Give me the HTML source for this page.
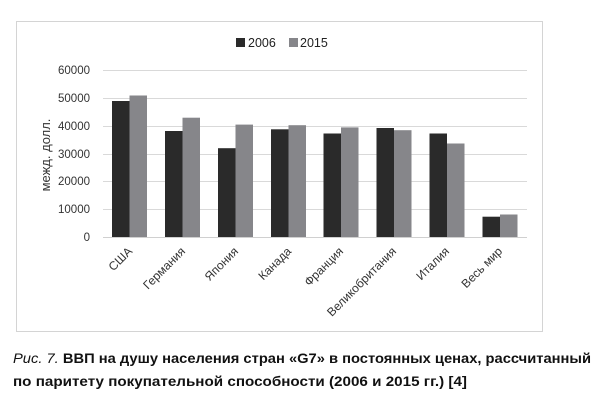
<!DOCTYPE html>
<html><head><meta charset="utf-8"><style>
html,body{margin:0;padding:0;background:#fff;}
svg{display:block;font-family:"Liberation Sans",sans-serif;}
</style></head><body>
<svg width="605" height="400" viewBox="0 0 605 400" xmlns="http://www.w3.org/2000/svg">
<rect x="16.5" y="21.5" width="526" height="310" fill="#fff" stroke="#d4d4d4" stroke-width="1"/>
<rect x="236" y="38" width="9" height="9" fill="#2a2a2a"/>
<text x="248" y="47" font-size="12.5" fill="#222">2006</text>
<rect x="289" y="38" width="9" height="9" fill="#86868a"/>
<text x="300" y="47" font-size="12.5" fill="#222">2015</text>
<g stroke="#d9d9d9" stroke-width="1">
<line x1="103" x2="527" y1="70.5" y2="70.5"/>
<line x1="103" x2="527" y1="98.5" y2="98.5"/>
<line x1="103" x2="527" y1="126.5" y2="126.5"/>
<line x1="103" x2="527" y1="154.5" y2="154.5"/>
<line x1="103" x2="527" y1="181.5" y2="181.5"/>
<line x1="103" x2="527" y1="209.5" y2="209.5"/>
</g>
<g font-size="11.5" fill="#333" text-anchor="end">
<text x="90" y="74">60000</text>
<text x="90" y="102">50000</text>
<text x="90" y="130">40000</text>
<text x="90" y="158">30000</text>
<text x="90" y="185">20000</text>
<text x="90" y="213">10000</text>
<text x="90" y="241">0</text>
</g>
<text transform="translate(50,155) rotate(-90)" font-size="13" fill="#333" text-anchor="middle">межд. долл.</text>
<g fill="#2a2a2a">
<rect x="112" y="101" width="17.5" height="136"/>
<rect x="165" y="131" width="17.5" height="106"/>
<rect x="218" y="148.2" width="17.5" height="88.8"/>
<rect x="271" y="129.3" width="17.5" height="107.7"/>
<rect x="323.5" y="133.5" width="17.5" height="103.5"/>
<rect x="376.5" y="128" width="17.5" height="109"/>
<rect x="429.5" y="133.5" width="17.5" height="103.5"/>
<rect x="482.5" y="216.7" width="17.5" height="20.3"/>
</g>
<g fill="#86868a">
<rect x="129.5" y="95.5" width="17.5" height="141.5"/>
<rect x="182.5" y="117.7" width="17.5" height="119.3"/>
<rect x="235.5" y="124.6" width="17.5" height="112.4"/>
<rect x="288.5" y="125.2" width="17.5" height="111.8"/>
<rect x="341" y="127.4" width="17.5" height="109.6"/>
<rect x="394" y="130.2" width="17.5" height="106.8"/>
<rect x="447" y="143.5" width="17.5" height="93.5"/>
<rect x="500" y="214.5" width="17.5" height="22.5"/>
</g>
<line x1="103" x2="527" y1="237.5" y2="237.5" stroke="#d0d0d0"/>
<g font-size="12" fill="#333" text-anchor="end">
<text transform="translate(133,252) rotate(-45)">США</text>
<text transform="translate(186,252) rotate(-45)">Германия</text>
<text transform="translate(239,252) rotate(-45)">Япония</text>
<text transform="translate(292,252) rotate(-45)">Канада</text>
<text transform="translate(344,252) rotate(-45)">Франция</text>
<text transform="translate(397,252) rotate(-45)">Великобритания</text>
<text transform="translate(450,252) rotate(-45)">Италия</text>
<text transform="translate(503,252) rotate(-45)">Весь мир</text>
</g>
<text x="13" y="363" font-size="14" fill="#111" textLength="578" lengthAdjust="spacingAndGlyphs"><tspan font-style="italic">Рис. 7.</tspan><tspan font-weight="bold"> ВВП на душу населения стран «G7» в постоянных ценах, рассчитанный</tspan></text>
<text x="13" y="386" font-size="14" fill="#111" font-weight="bold" textLength="454" lengthAdjust="spacingAndGlyphs">по паритету покупательной способности (2006 и 2015 гг.) [4]</text>
</svg>
</body></html>
